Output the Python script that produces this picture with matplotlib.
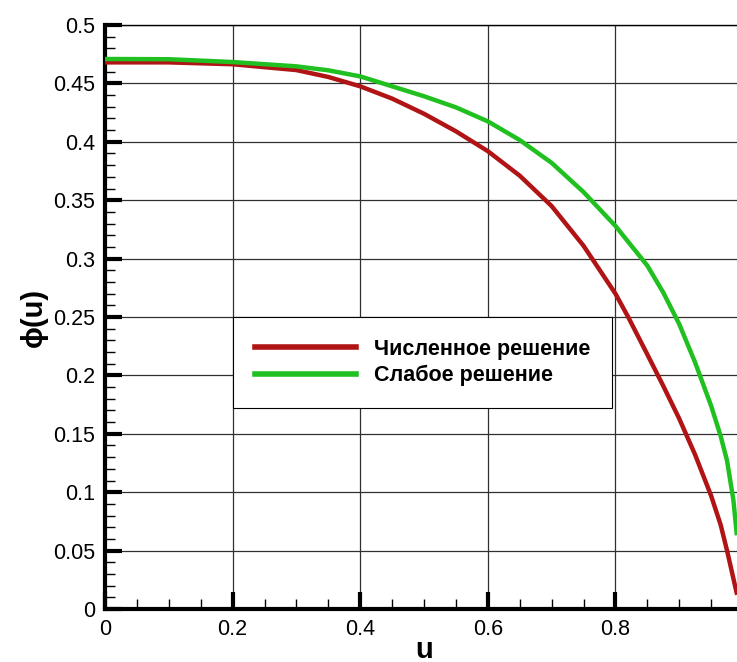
import numpy as np
import matplotlib.pyplot as plt
from matplotlib.ticker import MultipleLocator

plt.rcParams['font.family'] = ['Liberation Sans', 'DejaVu Sans']

# Численное решение (red)
u_num = [0.0, 0.1, 0.2, 0.3, 0.35, 0.4, 0.45, 0.5, 0.55, 0.6, 0.65,
         0.7, 0.75, 0.8, 0.82, 0.85, 0.875, 0.9, 0.925, 0.95, 0.965,
         0.975, 0.985, 0.99]
phi_num = [0.468, 0.468, 0.4664, 0.4614, 0.4555, 0.4475, 0.437, 0.424,
           0.409, 0.392, 0.371, 0.345, 0.311, 0.27, 0.25, 0.218, 0.191,
           0.163, 0.132, 0.097, 0.072, 0.05, 0.026, 0.014]

# Слабое решение (green)
u_weak = [0.0, 0.1, 0.2, 0.3, 0.35, 0.4, 0.45, 0.5, 0.55, 0.6, 0.65,
          0.7, 0.75, 0.8, 0.85, 0.875, 0.9, 0.925, 0.95, 0.965, 0.975,
          0.985, 0.99]
phi_weak = [0.4709, 0.4707, 0.4683, 0.4646, 0.4612, 0.456, 0.4475,
            0.439, 0.4295, 0.4175, 0.4015, 0.382, 0.357, 0.328, 0.294,
            0.271, 0.244, 0.211, 0.174, 0.148, 0.127, 0.093, 0.065]

labels = ['Численное решение', 'Слабое решение']
colors = ['#b01414', '#20c020']

fig = plt.figure(figsize=(7.37, 6.62), dpi=100)
ax = fig.add_axes([105/737, 53/662, 638/737, 584/662])

ax.plot(u_num, phi_num, color=colors[0], lw=3.2, label=labels[0],
        zorder=3, solid_joinstyle='round')
ax.plot(u_weak, phi_weak, color=colors[1], lw=3.2, label=labels[1],
        zorder=3, solid_joinstyle='round')

ax.set_xlim(0, 1)
ax.set_ylim(0, 0.5)
ax.xaxis.set_minor_locator(MultipleLocator(0.05))
ax.yaxis.set_minor_locator(MultipleLocator(0.01))
ax.set_xticks([0, 0.2, 0.4, 0.6, 0.8])
ax.set_xticklabels(['0', '0.2', '0.4', '0.6', '0.8'])
yt = np.arange(0, 0.501, 0.05)
ax.set_yticks(yt)
ax.set_yticklabels(['0'] + ['%g' % round(v, 2) for v in yt[1:]])

ax.grid(True, which='major', color='#303030', lw=0.9)
ax.tick_params(which='major', direction='in', length=12, width=3,
               labelsize=15.5, pad=7, top=False, right=False)
ax.tick_params(which='minor', direction='in', length=7, width=1,
               top=False, right=False)

for s in ['left', 'bottom']:
    ax.spines[s].set_linewidth(3)
ax.spines['top'].set_linewidth(1)
ax.spines['right'].set_visible(False)

ax.set_xlabel('u', fontsize=21, fontweight='bold', labelpad=-3)
ax.set_ylabel('ϕ(u)', fontsize=21, fontweight='bold', labelpad=4)

leg = ax.legend(loc='upper left', bbox_to_anchor=(0.2006, 0.5),
                borderaxespad=0, fancybox=False, framealpha=1,
                edgecolor='black', handlelength=4.7, handletextpad=0.85,
                borderpad=1.0, labelspacing=0.25,
                prop={'weight': 'bold', 'size': 15.5})
leg.get_frame().set_linewidth(0.8)
for line in leg.get_lines():
    line.set_linewidth(4)

fig.savefig('out.png', dpi=100)
